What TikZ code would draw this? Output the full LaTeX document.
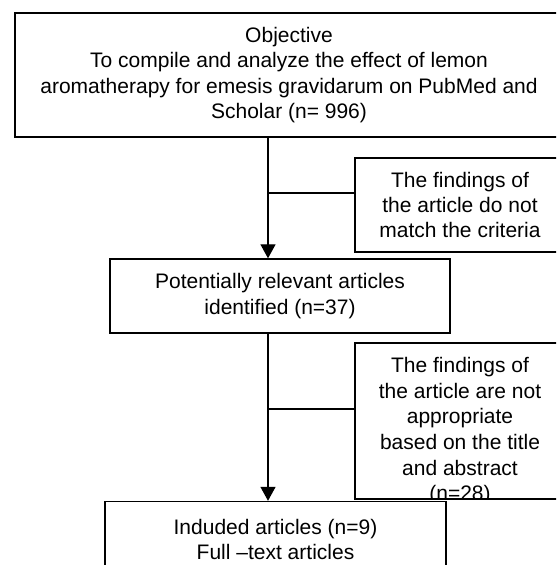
\documentclass[tikz,border=0pt]{standalone}
\usepackage{fontspec}
\setmainfont{Liberation Sans}
\usetikzlibrary{arrows.meta}

\begin{document}
\begin{tikzpicture}[x=0.5pt, y=-0.5pt,
  box/.style = {draw, rectangle, line width=0.7pt, align=center, inner sep=0pt,
                font=\fontsize{10.5}{12.7}\selectfont},
  txt/.style = {align=center, inner sep=0pt, font=\fontsize{10.5}{12.8}\selectfont},
  flow/.style = {line width=0.7pt, -{Triangle[width=7.5pt,length=7pt]}},
  link/.style = {line width=0.7pt}]

\useasboundingbox (0, 0) rectangle (556, 565);
\clip (0, 0) rectangle (556, 565);

\node[box, minimum width=274pt, minimum height=62pt] (obj) at (289, 75)
  {Objective\\To compile and analyze the effect of lemon\\aromatherapy for emesis gravidarum on PubMed and\\Scholar (n= 996)};

\node[box, minimum width=105pt, minimum height=47pt] (excl1) at (460, 205)
  {The findings of\\the article do not\\match the criteria};

\node[box, minimum width=170pt, minimum height=37pt] (pot) at (280, 296)
  {Potentially relevant articles\\identified (n=37)};

\node[box, minimum width=105pt, minimum height=78pt] (excl2) at (460, 421) {};
\begin{scope}
\clip (excl2.north west) rectangle (excl2.south east);
\node[txt, anchor=north] (excl2t) at (460, 357)
  {The findings of\\the article are not\\appropriate\\based on the title\\and abstract\\(n=28)};
\end{scope}

\node[box, minimum width=170.5pt, minimum height=38pt] (incl) at (275.5, 539.5)
  {Induded articles (n=9)\\Full --text articles};

% trunk and side branches
\coordinate (trunk) at (268, 0);
\coordinate (b1) at (268, 193);
\coordinate (b2) at (268, 409);

\draw[flow] (obj.south -| trunk) -- (pot.north -| trunk);
\draw[link] (b1) -- (b1 -| excl1.west);
\draw[flow] (pot.south -| trunk) -- (incl.north -| trunk);
\draw[link] (b2) -- (b2 -| excl2.west);

\end{tikzpicture}
\end{document}
